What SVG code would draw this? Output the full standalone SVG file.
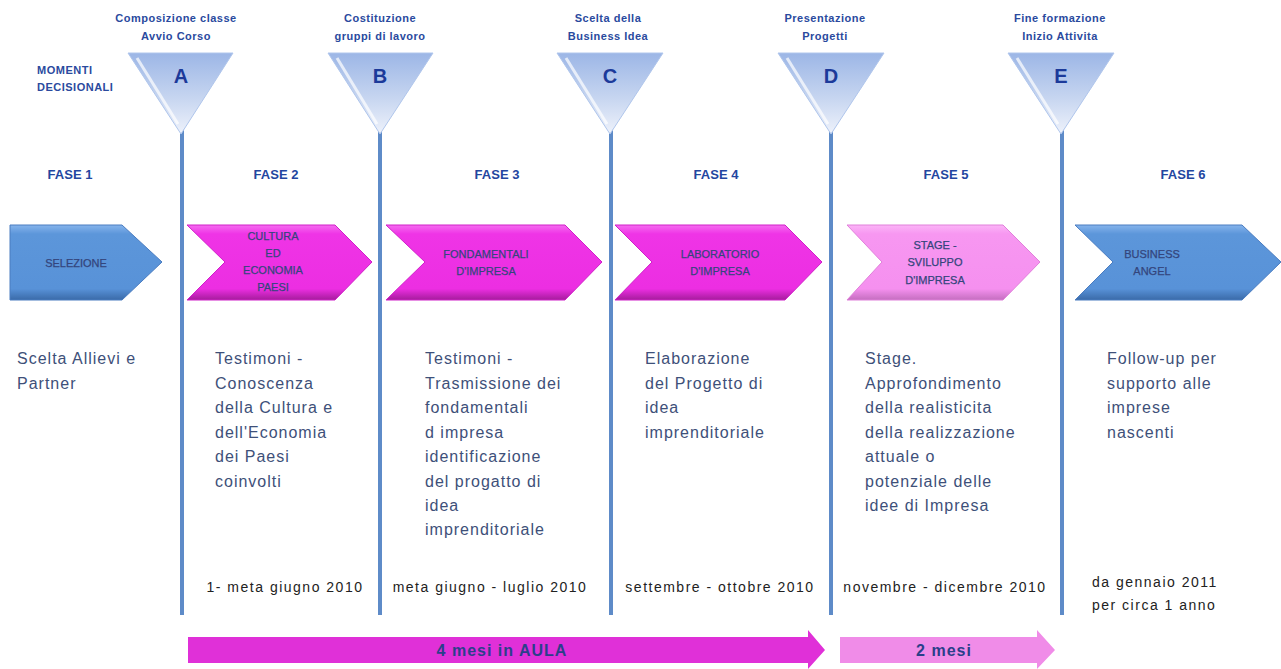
<svg xmlns="http://www.w3.org/2000/svg" width="1281" height="669" viewBox="0 0 1281 669">
<defs>
<linearGradient id="gTri" x1="0" y1="0" x2="0" y2="1">
<stop offset="0" stop-color="#9cb6e6"/>
<stop offset="0.55" stop-color="#c6d5f0"/>
<stop offset="1" stop-color="#eef2fb"/>
</linearGradient>
<linearGradient id="gMag" x1="0" y1="0" x2="0" y2="1">
<stop offset="0" stop-color="#f56cf0"/>
<stop offset="0.12" stop-color="#ef34e6"/>
<stop offset="0.85" stop-color="#ec2ee2"/>
<stop offset="1" stop-color="#a51c9c"/>
</linearGradient>
<linearGradient id="gPink" x1="0" y1="0" x2="0" y2="1">
<stop offset="0" stop-color="#fbb4f7"/>
<stop offset="0.12" stop-color="#f797f1"/>
<stop offset="0.85" stop-color="#f590ef"/>
<stop offset="1" stop-color="#c46ebf"/>
</linearGradient>
<linearGradient id="gBlue" x1="0" y1="0" x2="0" y2="1">
<stop offset="0" stop-color="#86b4ec"/>
<stop offset="0.12" stop-color="#5c96da"/>
<stop offset="0.85" stop-color="#5892d8"/>
<stop offset="1" stop-color="#3a6aa8"/>
</linearGradient>
<style>
.vline{stroke:#5e8bc8;stroke-width:4;fill:none}
.tri{fill:url(#gTri);stroke:#b0c6ec;stroke-width:1}
.shine{fill:none;stroke:#ffffff;stroke-opacity:0.7;stroke-width:3}
.letter{font-family:"Liberation Sans",Arial,sans-serif;font-size:20px;font-weight:bold;fill:#1c3a9a;text-anchor:middle}
.mlab{font-family:"Liberation Sans",Arial,sans-serif;font-size:11px;font-weight:bold;fill:#2a4a9e;text-anchor:middle;letter-spacing:0.5px}
.fase{font-family:"Liberation Sans",Arial,sans-serif;font-size:13px;font-weight:bold;fill:#2346a0;text-anchor:middle}
.chev{font-family:"Liberation Sans",Arial,sans-serif;font-size:11px;fill:#34457c;text-anchor:middle;stroke:#34457c;stroke-width:0.25}
.desc{font-family:"Liberation Sans",Arial,sans-serif;font-size:16px;fill:#3e5079;letter-spacing:1px}
.date{font-family:"Liberation Sans",Arial,sans-serif;font-size:14px;fill:#222222;letter-spacing:1.5px}
.bar{font-family:"Liberation Sans",Arial,sans-serif;font-size:16px;font-weight:bold;fill:#2b3f8a;text-anchor:middle;letter-spacing:1px}
</style>
</defs>
<rect width="1281" height="669" fill="#ffffff"/>

<g id="connectors">
<line class="vline" x1="182" y1="128" x2="182" y2="615"/>
<line class="vline" x1="380" y1="128" x2="380" y2="615"/>
<line class="vline" x1="611" y1="128" x2="611" y2="615"/>
<line class="vline" x1="831" y1="128" x2="831" y2="615"/>
<line class="vline" x1="1062" y1="128" x2="1062" y2="615"/>
</g>

<g id="momenti-label">
<text class="mlab" x="37" y="74" style="text-anchor:start">MOMENTI</text>
<text class="mlab" x="37" y="91" style="text-anchor:start">DECISIONALI</text>
</g>

<g id="milestone-A">
<text class="mlab" x="176" y="22">Composizione classe</text>
<text class="mlab" x="176" y="40">Avvio Corso</text>
<polygon class="tri" points="128,53 233,53 181,134"/>
<line class="shine" x1="137" y1="58" x2="178" y2="124"/>
<text class="letter" x="181" y="83">A</text>
</g>
<g id="milestone-B">
<text class="mlab" x="380" y="22">Costituzione</text>
<text class="mlab" x="380" y="40">gruppi di lavoro</text>
<polygon class="tri" points="328,53 433,53 380,134"/>
<line class="shine" x1="337" y1="58" x2="377" y2="124"/>
<text class="letter" x="380" y="83">B</text>
</g>
<g id="milestone-C">
<text class="mlab" x="608" y="22">Scelta della</text>
<text class="mlab" x="608" y="40">Business Idea</text>
<polygon class="tri" points="557,53 663,53 610,134"/>
<line class="shine" x1="566" y1="58" x2="607" y2="124"/>
<text class="letter" x="610" y="83">C</text>
</g>
<g id="milestone-D">
<text class="mlab" x="825" y="22">Presentazione</text>
<text class="mlab" x="825" y="40">Progetti</text>
<polygon class="tri" points="778,53 884,53 831,134"/>
<line class="shine" x1="787" y1="58" x2="828" y2="124"/>
<text class="letter" x="831" y="83">D</text>
</g>
<g id="milestone-E">
<text class="mlab" x="1060" y="22">Fine formazione</text>
<text class="mlab" x="1060" y="40">Inizio Attivita</text>
<polygon class="tri" points="1008,53 1114,53 1061,134"/>
<line class="shine" x1="1017" y1="58" x2="1058" y2="124"/>
<text class="letter" x="1061" y="83">E</text>
</g>

<g id="fase-1">
<text class="fase" x="70" y="179">FASE 1</text>
<polygon points="10,225 122,225 162,262 122,300 10,300" fill="url(#gBlue)" stroke="#4a7cc0" stroke-width="1"/>
<text class="chev" x="76" y="267">SELEZIONE</text>
<text class="desc" x="17" y="364">Scelta Allievi e</text>
<text class="desc" x="17" y="389">Partner</text>
</g>

<g id="fase-2">
<text class="fase" x="276" y="179">FASE 2</text>
<polygon points="187,225 335,225 372,262 335,300 187,300 225,262" fill="url(#gMag)" stroke="#d020c8" stroke-width="1"/>
<text class="chev" x="273" y="240">CULTURA</text>
<text class="chev" x="273" y="257">ED</text>
<text class="chev" x="273" y="274">ECONOMIA</text>
<text class="chev" x="273" y="291">PAESI</text>
<text class="desc" x="215" y="364">Testimoni -</text>
<text class="desc" x="215" y="389">Conoscenza</text>
<text class="desc" x="215" y="413">della Cultura e</text>
<text class="desc" x="215" y="438">dell'Economia</text>
<text class="desc" x="215" y="462">dei Paesi</text>
<text class="desc" x="215" y="487">coinvolti</text>
<text class="date" x="285" y="592" text-anchor="middle">1- meta giugno 2010</text>
</g>

<g id="fase-3">
<text class="fase" x="497" y="179">FASE 3</text>
<polygon points="386,225 565,225 602,262 565,300 386,300 425,262" fill="url(#gMag)" stroke="#d020c8" stroke-width="1"/>
<text class="chev" x="486" y="258">FONDAMENTALI</text>
<text class="chev" x="486" y="275">D'IMPRESA</text>
<text class="desc" x="425" y="364">Testimoni -</text>
<text class="desc" x="425" y="389">Trasmissione dei</text>
<text class="desc" x="425" y="413">fondamentali</text>
<text class="desc" x="425" y="438">d impresa</text>
<text class="desc" x="425" y="462">identificazione</text>
<text class="desc" x="425" y="487">del progatto di</text>
<text class="desc" x="425" y="511">idea</text>
<text class="desc" x="425" y="535">imprenditoriale</text>
<text class="date" x="490" y="592" text-anchor="middle">meta giugno - luglio 2010</text>
</g>

<g id="fase-4">
<text class="fase" x="716" y="179">FASE 4</text>
<polygon points="615,225 785,225 822,262 785,300 615,300 652,262" fill="url(#gMag)" stroke="#d020c8" stroke-width="1"/>
<text class="chev" x="720" y="258">LABORATORIO</text>
<text class="chev" x="720" y="275">D'IMPRESA</text>
<text class="desc" x="645" y="364">Elaborazione</text>
<text class="desc" x="645" y="389">del Progetto di</text>
<text class="desc" x="645" y="413">idea</text>
<text class="desc" x="645" y="438">imprenditoriale</text>
<text class="date" x="720" y="592" text-anchor="middle">settembre - ottobre 2010</text>
</g>

<g id="fase-5">
<text class="fase" x="946" y="179">FASE 5</text>
<polygon points="847,225 1003,225 1040,262 1003,300 847,300 882,262" fill="url(#gPink)" stroke="#e080da" stroke-width="1"/>
<text class="chev" x="935" y="249">STAGE -</text>
<text class="chev" x="935" y="266">SVILUPPO</text>
<text class="chev" x="935" y="284">D'IMPRESA</text>
<text class="desc" x="865" y="364">Stage.</text>
<text class="desc" x="865" y="389">Approfondimento</text>
<text class="desc" x="865" y="413">della realisticita</text>
<text class="desc" x="865" y="438">della realizzazione</text>
<text class="desc" x="865" y="462">attuale o</text>
<text class="desc" x="865" y="487">potenziale delle</text>
<text class="desc" x="865" y="511">idee di Impresa</text>
<text class="date" x="945" y="592" text-anchor="middle">novembre - dicembre 2010</text>
</g>

<g id="fase-6">
<text class="fase" x="1183" y="179">FASE 6</text>
<polygon points="1075,225 1242,225 1281,262 1242,300 1075,300 1113,262" fill="url(#gBlue)" stroke="#4a7cc0" stroke-width="1"/>
<text class="chev" x="1152" y="258">BUSINESS</text>
<text class="chev" x="1152" y="275">ANGEL</text>
<text class="desc" x="1107" y="364">Follow-up per</text>
<text class="desc" x="1107" y="389">supporto alle</text>
<text class="desc" x="1107" y="413">imprese</text>
<text class="desc" x="1107" y="438">nascenti</text>
<text class="date" x="1092" y="587">da gennaio 2011</text>
<text class="date" x="1092" y="610">per circa 1 anno</text>
</g>

<g id="aula-arrow">
<polygon points="188,637 808,637 808,630 825,650 808,669 808,663 188,663" fill="#e030d8"/>
<text class="bar" x="502" y="656">4 mesi in AULA</text>
</g>
<g id="stage-arrow">
<polygon points="840,637 1037,637 1037,630 1055,650 1037,669 1037,663 840,663" fill="#f08ce8"/>
<text class="bar" x="944" y="656">2 mesi</text>
</g>
</svg>
